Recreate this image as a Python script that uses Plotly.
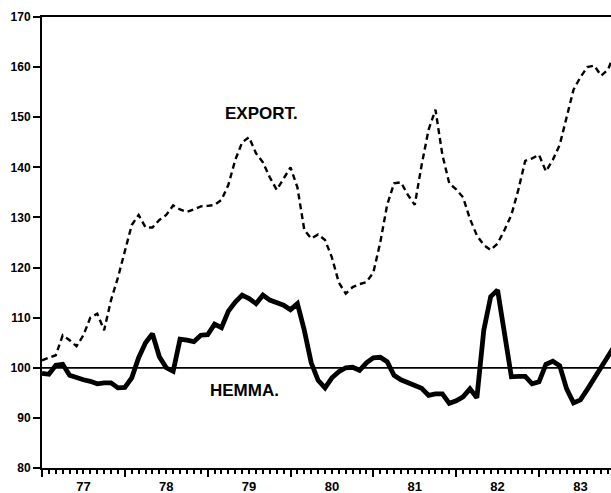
import plotly.graph_objects as go

# Monthly index values, starting January 1977
export_vals = [101.5, 102.0, 102.5, 106.5, 105.5, 104.3, 106.5, 110.0, 110.8, 107.5,
               113.5, 118.0, 123.5, 128.5, 130.5, 128.0, 128.0, 129.5, 130.5, 132.4,
               131.6, 131.1, 131.6, 132.2, 132.3, 132.5, 133.5, 136.5, 141.5, 145.0,
               146.0, 142.8, 141.0, 138.0, 135.5, 137.8, 140.0, 136.0, 127.5, 125.8,
               126.6, 125.5, 122.0, 117.0, 114.8, 116.1, 116.7, 117.1, 119.0, 125.0,
               132.5, 136.8, 137.0, 134.5, 132.5, 140.5, 147.5, 151.5, 142.5, 136.8,
               135.6, 134.0, 129.7, 126.4, 124.5, 123.5, 124.8, 127.5, 130.5, 135.5,
               141.3, 141.8, 142.5, 139.2, 141.5, 144.5, 150.0, 155.5, 158.0, 160.0,
               160.3, 158.3, 159.5, 163.0]

hemma_vals = [98.9, 98.7, 100.5, 100.7, 98.5, 98.0, 97.6, 97.3, 96.8, 97.0,
              97.0, 96.0, 96.1, 98.0, 102.0, 105.0, 106.8, 102.2, 100.0, 99.3,
              105.7, 105.5, 105.2, 106.5, 106.6, 108.7, 108.0, 111.3, 113.1, 114.5,
              113.8, 112.8, 114.5, 113.5, 112.9, 112.5, 111.6, 112.8, 107.5, 101.0,
              97.5, 96.0, 98.0, 99.2, 100.0, 100.1, 99.5, 101.0, 102.0, 102.1,
              101.2, 98.5, 97.6, 97.0, 96.5, 95.9, 94.5, 94.8, 94.8, 92.9,
              93.4, 94.2, 95.8, 94.0, 107.5, 114.2, 115.5, 107.0, 98.2, 98.3,
              98.3, 96.8, 97.2, 100.7, 101.3, 100.4, 95.8, 93.0, 93.6, 95.7,
              97.9, 99.9, 102.5, 104.5]

start_year = 1977
year_labels = ["77", "78", "79", "80", "81", "82", "83"]
y_ticks = [80, 90, 100, 110, 120, 130, 140, 150, 160, 170]
base_level = 100

months = [start_year + i / 12 for i in range(len(export_vals))]
years = [start_year + i for i in range(len(year_labels) + 1)]
label_pos = [start_year + i + 0.5 for i in range(len(year_labels))]

x_range = [1977.0, 1983.869]
FAM = "Liberation Sans, Arial, sans-serif"
bold = dict(family=FAM, size=12, color="black", weight="bold")

fig = go.Figure()
fig.add_trace(go.Scatter(x=months, y=export_vals, mode="lines", name="EXPORT",
                         line=dict(color="black", width=2.4, dash="6px,4px")))
fig.add_trace(go.Scatter(x=months, y=hemma_vals, mode="lines", name="HEMMA",
                         xaxis="x2",
                         line=dict(color="black", width=4.8)))
fig.add_hline(y=base_level, line=dict(color="black", width=1.8))

fig.add_annotation(x=1979.644, y=150.8, text="EXPORT.", showarrow=False,
                   font=dict(family=FAM, size=17, color="black", weight="bold"))
fig.add_annotation(x=1979.45, y=95.4, text="HEMMA.", showarrow=False,
                   font=dict(family=FAM, size=17, color="black", weight="bold"))

fig.update_layout(
    width=611, height=493,
    margin=dict(l=42, r=0, t=17, b=25, autoexpand=False),
    paper_bgcolor="white", plot_bgcolor="white",
    showlegend=False,
    xaxis=dict(range=x_range, showgrid=False, zeroline=False,
               showline=True, linecolor="black", linewidth=2, mirror=True,
               tickmode="array", tickvals=years, ticks="outside",
               ticklen=7, tickwidth=2, tickcolor="black", showticklabels=False,
               minor=dict(ticks="outside", ticklen=4, tickwidth=1.5, tickcolor="black",
                          tick0=start_year, dtick=1 / 12)),
    xaxis2=dict(range=x_range, overlaying="x", anchor="y", side="bottom",
                showgrid=False, zeroline=False, showline=False,
                tickmode="array", tickvals=label_pos, ticktext=year_labels,
                ticks="outside", ticklen=0, ticklabelstandoff=6,
                tickfont=dict(family=FAM, size=13, color="black", weight="bold")),
    yaxis=dict(range=[80, 170], showgrid=False, zeroline=False,
               showline=True, linecolor="black", linewidth=2,
               tickmode="array", tickvals=y_ticks, ticks="outside",
               ticklen=7, tickwidth=2, tickcolor="black", tickfont=bold),
)

fig.write_html("out.html",
               config={"displayModeBar": False},
               post_script="document.body.style.margin='0';document.body.style.overflow='hidden';")
